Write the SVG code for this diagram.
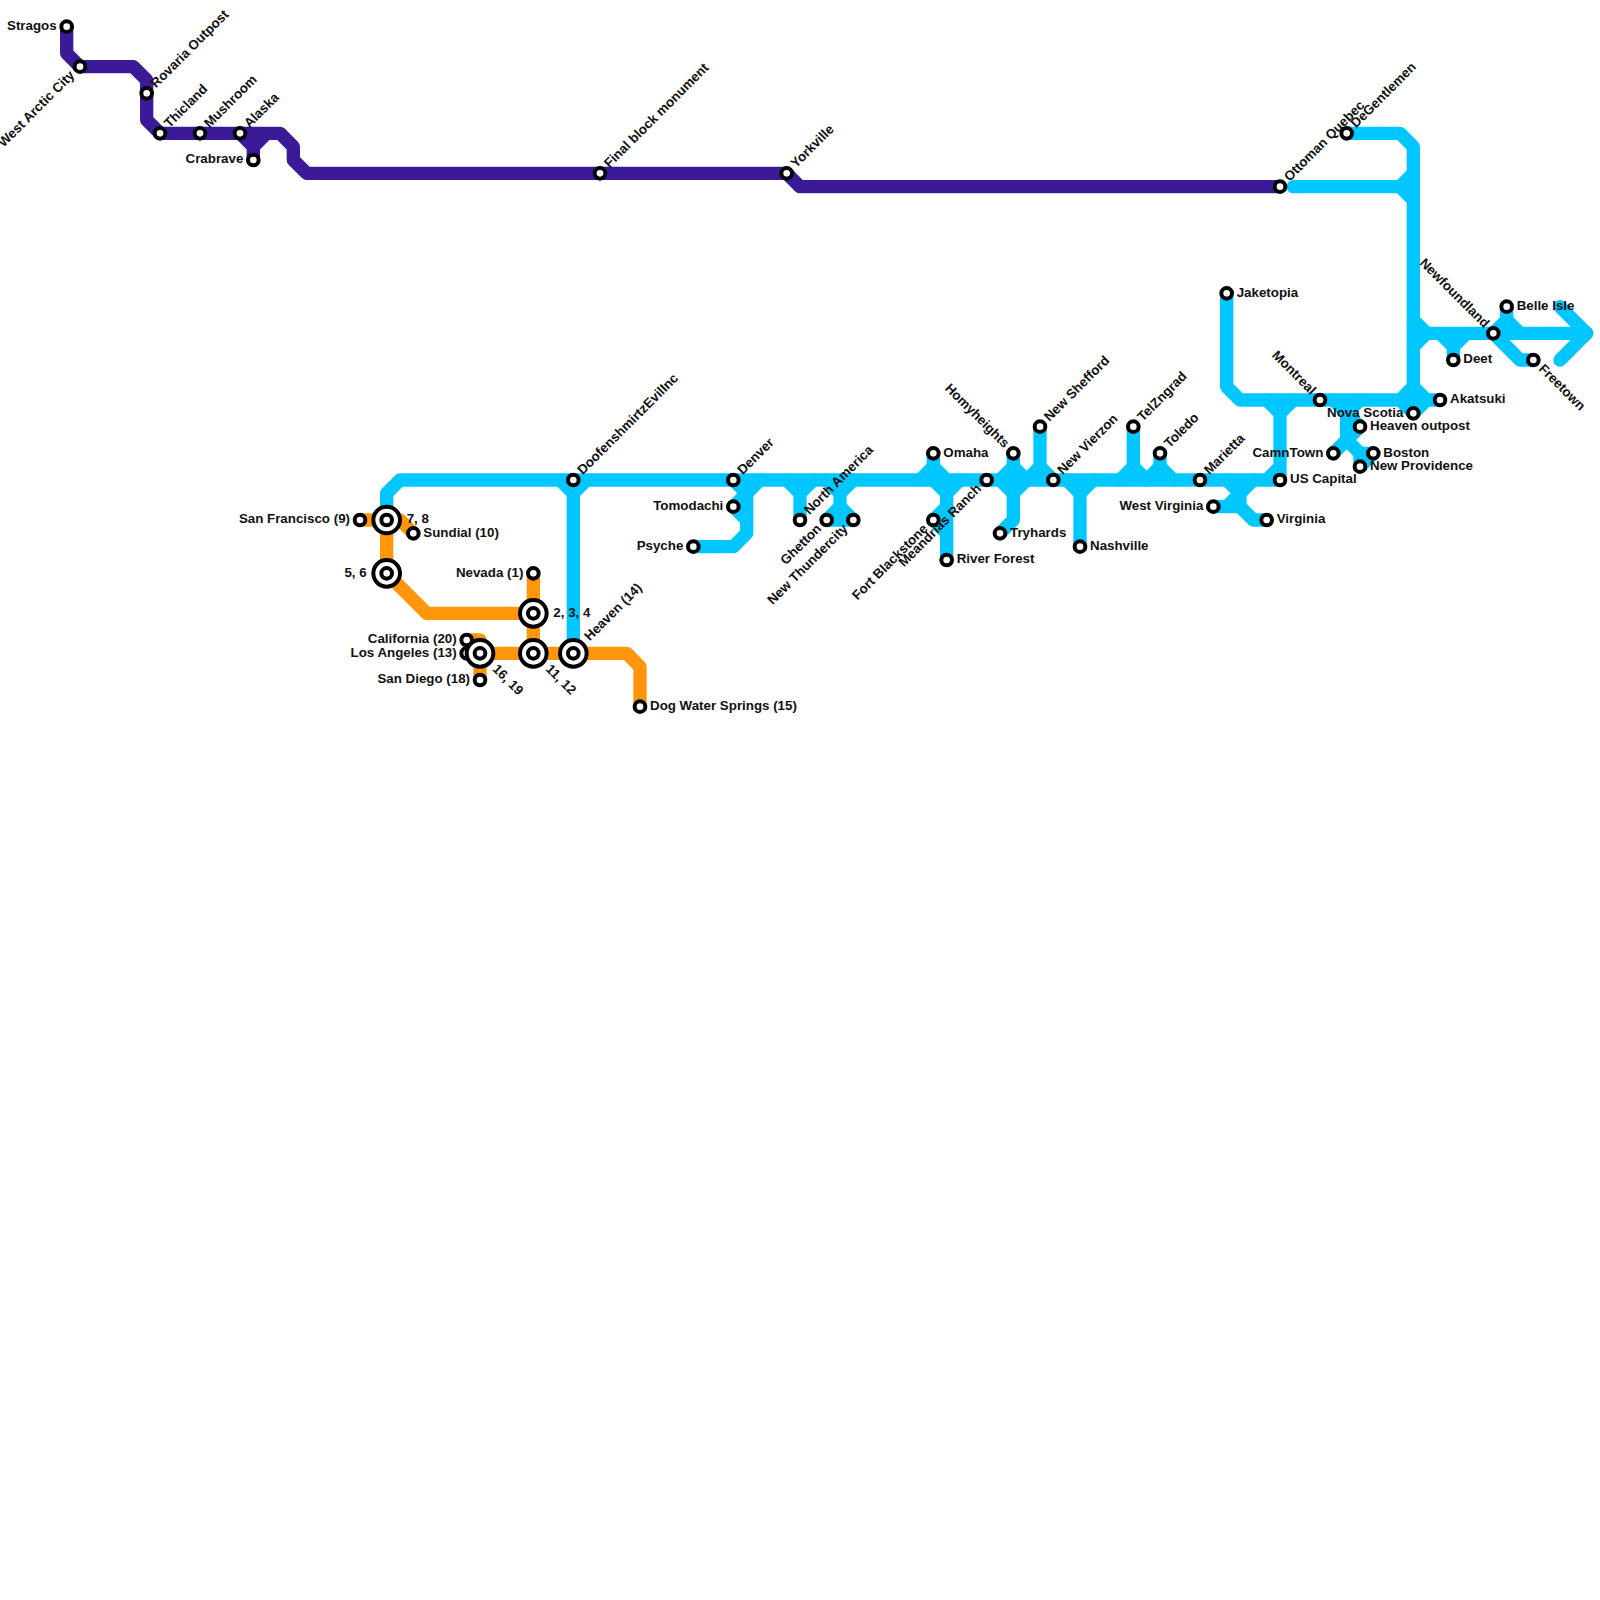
<svg xmlns="http://www.w3.org/2000/svg" width="1600" height="1600" viewBox="0 0 1600 1600">
<style>
.l{fill:none;stroke-width:1;stroke-linecap:round;stroke-linejoin:round}
.p{stroke:#3a1a96}.o{stroke:#ff960c}.c{stroke:#00c7ff}
circle{fill:#fff;stroke:#000;stroke-width:4}
text{font-family:"Liberation Sans",Arial,sans-serif;font-weight:700;font-size:13.33px;fill:#111}
.e{text-anchor:end}
</style>
<rect width="1600" height="1600" fill="#fff"/>
<g id="connectors" transform="scale(13.33333)">
<path class="l o" d="M27,39H30L31,40M29,39V43L32,46H40M40,43V49M35,48H36V51M35,49H47L48,50V53"/>
<path class="l c" d="M29,39V37L30,36H96M42,36L43,37L44,36M43,37V49"/>
<path class="l c" d="M55,36L56,37L57,36M56,37V40L55,41H52M56,37L55,38L56,39"/>
<path class="l c" d="M59,36L60,37L61,36M60,37V39"/>
<path class="l c" d="M62,36L63,37L64,36M63,37V38L62,39H64L63,38"/>
<path class="l c" d="M69,36L70,35L71,36M70,35V34"/>
<path class="l c" d="M70,36L71,37L72,36M71,37V42M71,38L70,39L71,40"/>
<path class="l c" d="M75,36L76,35L77,36M76,35V34"/>
<path class="l c" d="M75,36L76,37L77,36M76,37V39L75,40"/>
<path class="l c" d="M77,36L78,35L79,36M78,35V32"/>
<path class="l c" d="M80,36L81,37L82,36M81,37V41"/>
<path class="l c" d="M84,36L85,35L86,36M85,35V32"/>
<path class="l c" d="M86,36L87,35L88,36M87,35V34"/>
<path class="l c" d="M92,36L93,37L94,36M93,37V38L94,39H95M93,37L92,38H91M92,38H93"/>
<path class="l c" d="M95,36L96,35V31M95,30L96,31L97,30M96,35V36"/>
<path class="l c" d="M92,22V29L93,30H105L106,31L107,30H108M105,30L106,29L107,30M106,29V31"/>
<path class="l c" d="M101,10H105L106,11V29M97,14H105L106,13M105,14L106,15"/>
<path class="l c" d="M100,30L101,31L102,30M101,31V33L100,34M101,31L102,32L101,33L102,34H103L102,35V34"/>
<path class="l c" d="M106,24L107,25L106,26M107,25H119M108,25L109,26L110,25M109,26V27"/>
<path class="l c" d="M112,25L113,24L114,25M113,24V23M112,25L114,27H115M117,23L119,25L117,27"/>
<path class="l p" d="M5,2V4L6,5H10L11,6V9L12,10H21L22,11V12L23,13H59L60,14H96M18,10L19,11V12M19,11L20,10"/>
</g>
<g id="n-stragos"><circle cx="66.67" cy="26.67" r="5.33"/><text class="e" x="56.67" y="30">Stragos</text></g>
<g id="n-west-arctic"><circle cx="80" cy="66.67" r="5.33"/><text class="e" x="70" y="70" transform="rotate(-45 80 66.67)">West Arctic City</text></g>
<g id="n-rovaria"><circle cx="146.67" cy="93.33" r="5.33"/><text x="156.67" y="96.67" transform="rotate(-45 146.67 93.33)">Rovaria Outpost</text></g>
<g id="n-thicland"><circle cx="160" cy="133.33" r="5.33"/><text x="170" y="136.67" transform="rotate(-45 160 133.33)">Thicland</text></g>
<g id="n-mushroom"><circle cx="200" cy="133.33" r="5.33"/><text x="210" y="136.67" transform="rotate(-45 200 133.33)">Mushroom</text></g>
<g id="n-alaska"><circle cx="240" cy="133.33" r="5.33"/><text x="250" y="136.67" transform="rotate(-45 240 133.33)">Alaska</text></g>
<g id="n-crabrave"><circle cx="253.33" cy="160" r="5.33"/><text class="e" x="243.33" y="163.33">Crabrave</text></g>
<g id="n-final-block"><circle cx="600" cy="173.33" r="5.33"/><text x="610" y="176.67" transform="rotate(-45 600 173.33)">Final block monument</text></g>
<g id="n-yorkville"><circle cx="786.67" cy="173.33" r="5.33"/><text x="796.67" y="176.67" transform="rotate(-45 786.67 173.33)">Yorkville</text></g>
<g id="n-ottoman"><circle cx="1280" cy="186.67" r="5.33"/><text x="1290" y="190" transform="rotate(-45 1280 186.67)">Ottoman Quebec</text></g>
<g id="n-degentlemen"><circle cx="1346.67" cy="133.33" r="5.33"/><text x="1356.67" y="136.67" transform="rotate(-45 1346.67 133.33)">DeGentlemen</text></g>
<g id="n-doofen"><circle cx="573.33" cy="480" r="5.33"/><text x="583.33" y="483.33" transform="rotate(-45 573.33 480)">DoofenshmirtzEvilInc</text></g>
<g id="n-denver"><circle cx="733.33" cy="480" r="5.33"/><text x="743.33" y="483.33" transform="rotate(-45 733.33 480)">Denver</text></g>
<g id="n-tomodachi"><circle cx="733.33" cy="506.67" r="5.33"/><text class="e" x="723.33" y="510">Tomodachi</text></g>
<g id="n-psyche"><circle cx="693.33" cy="546.67" r="5.33"/><text class="e" x="683.33" y="550">Psyche</text></g>
<g id="n-north-america"><circle cx="800" cy="520" r="5.33"/><text x="810" y="523.33" transform="rotate(-45 800 520)">North America</text></g>
<g id="n-ghetton"><circle cx="826.67" cy="520" r="5.33"/><text class="e" x="816.67" y="523.33" transform="rotate(-45 826.67 520)">Ghetton</text></g>
<g id="n-new-thundercity"><circle cx="853.33" cy="520" r="5.33"/><text class="e" x="843.33" y="523.33" transform="rotate(-45 853.33 520)">New Thundercity</text></g>
<g id="n-omaha"><circle cx="933.33" cy="453.33" r="5.33"/><text x="943.33" y="456.67">Omaha</text></g>
<g id="n-fort-blackstone"><circle cx="933.33" cy="520" r="5.33"/><text class="e" x="923.33" y="523.33" transform="rotate(-45 933.33 520)">Fort Blackstone</text></g>
<g id="n-meandrias"><circle cx="986.67" cy="480" r="5.33"/><text class="e" x="976.67" y="483.33" transform="rotate(-45 986.67 480)">Meandrias Ranch</text></g>
<g id="n-river-forest"><circle cx="946.67" cy="560" r="5.33"/><text x="956.67" y="563.33">River Forest</text></g>
<g id="n-homyheights"><circle cx="1013.33" cy="453.33" r="5.33"/><text class="e" x="1003.33" y="456.67" transform="rotate(45 1013.33 453.33)">Homyheights</text></g>
<g id="n-tryhards"><circle cx="1000" cy="533.33" r="5.33"/><text x="1010" y="536.67">Tryhards</text></g>
<g id="n-new-shefford"><circle cx="1040" cy="426.67" r="5.33"/><text x="1050" y="430" transform="rotate(-45 1040 426.67)">New Shefford</text></g>
<g id="n-new-vierzon"><circle cx="1053.33" cy="480" r="5.33"/><text x="1063.33" y="483.33" transform="rotate(-45 1053.33 480)">New Vierzon</text></g>
<g id="n-nashville"><circle cx="1080" cy="546.67" r="5.33"/><text x="1090" y="550">Nashville</text></g>
<g id="n-telzngrad"><circle cx="1133.33" cy="426.67" r="5.33"/><text x="1143.33" y="430" transform="rotate(-45 1133.33 426.67)">TelZngrad</text></g>
<g id="n-toledo"><circle cx="1160" cy="453.33" r="5.33"/><text x="1170" y="456.67" transform="rotate(-45 1160 453.33)">Toledo</text></g>
<g id="n-marietta"><circle cx="1200" cy="480" r="5.33"/><text x="1210" y="483.33" transform="rotate(-45 1200 480)">Marietta</text></g>
<g id="n-west-virginia"><circle cx="1213.33" cy="506.67" r="5.33"/><text class="e" x="1203.33" y="510">West Virginia</text></g>
<g id="n-virginia"><circle cx="1266.67" cy="520" r="5.33"/><text x="1276.67" y="523.33">Virginia</text></g>
<g id="n-us-capital"><circle cx="1280" cy="480" r="5.33"/><text x="1290" y="483.33">US Capital</text></g>
<g id="n-jaketopia"><circle cx="1226.67" cy="293.33" r="5.33"/><text x="1236.67" y="296.67">Jaketopia</text></g>
<g id="n-montreal"><circle cx="1320" cy="400" r="5.33"/><text class="e" x="1310" y="403.33" transform="rotate(45 1320 400)">Montreal</text></g>
<g id="n-nova-scotia"><circle cx="1413.33" cy="413.33" r="5.33"/><text class="e" x="1403.33" y="416.67">Nova Scotia</text></g>
<g id="n-akatsuki"><circle cx="1440" cy="400" r="5.33"/><text x="1450" y="403.33">Akatsuki</text></g>
<g id="n-heaven-outpost"><circle cx="1360" cy="426.67" r="5.33"/><text x="1370" y="430">Heaven outpost</text></g>
<g id="n-camntown"><circle cx="1333.33" cy="453.33" r="5.33"/><text class="e" x="1323.33" y="456.67">CamnTown</text></g>
<g id="n-boston"><circle cx="1373.33" cy="453.33" r="5.33"/><text x="1383.33" y="456.67">Boston</text></g>
<g id="n-new-providence"><circle cx="1360" cy="466.67" r="5.33"/><text x="1370" y="470">New Providence</text></g>
<g id="n-deet"><circle cx="1453.33" cy="360" r="5.33"/><text x="1463.33" y="363.33">Deet</text></g>
<g id="n-newfoundland"><circle cx="1493.33" cy="333.33" r="5.33"/><text class="e" x="1483.33" y="336.67" transform="rotate(45 1493.33 333.33)">Newfoundland</text></g>
<g id="n-belle-isle"><circle cx="1506.67" cy="306.67" r="5.33"/><text x="1516.67" y="310">Belle Isle</text></g>
<g id="n-freetown"><circle cx="1533.33" cy="360" r="5.33"/><text x="1543.33" y="363.33" transform="rotate(45 1533.33 360)">Freetown</text></g>
<g id="n-san-francisco"><circle cx="360" cy="520" r="5.33"/><text class="e" x="350" y="523.33">San Francisco (9)</text></g>
<g id="n-7-8"><circle cx="386.67" cy="520" r="13.33"/><circle cx="386.67" cy="520" r="5.33"/><text x="406.67" y="523.33">7, 8</text></g>
<g id="n-sundial"><circle cx="413.33" cy="533.33" r="5.33"/><text x="423.33" y="536.67">Sundial (10)</text></g>
<g id="n-5-6"><circle cx="386.67" cy="573.33" r="13.33"/><circle cx="386.67" cy="573.33" r="5.33"/><text class="e" x="366.67" y="576.67">5, 6</text></g>
<g id="n-nevada"><circle cx="533.33" cy="573.33" r="5.33"/><text class="e" x="523.33" y="576.67">Nevada (1)</text></g>
<g id="n-2-3-4"><circle cx="533.33" cy="613.33" r="13.33"/><circle cx="533.33" cy="613.33" r="5.33"/><text x="553.33" y="616.67">2, 3, 4</text></g>
<g id="n-california"><circle cx="466.67" cy="640" r="5.33"/><text class="e" x="456.67" y="643.33">California (20)</text></g>
<g id="n-los-angeles"><circle cx="466.67" cy="653.33" r="5.33"/><text class="e" x="456.67" y="656.67">Los Angeles (13)</text></g>
<g id="n-16-19"><circle cx="480" cy="653.33" r="13.33"/><circle cx="480" cy="653.33" r="5.33"/><text x="500" y="656.67" transform="rotate(45 480 653.33)">16, 19</text></g>
<g id="n-san-diego"><circle cx="480" cy="680" r="5.33"/><text class="e" x="470" y="683.33">San Diego (18)</text></g>
<g id="n-11-12"><circle cx="533.33" cy="653.33" r="13.33"/><circle cx="533.33" cy="653.33" r="5.33"/><text x="553.33" y="656.67" transform="rotate(45 533.33 653.33)">11, 12</text></g>
<g id="n-heaven"><circle cx="573.33" cy="653.33" r="13.33"/><circle cx="573.33" cy="653.33" r="5.33"/><text x="593.33" y="656.67" transform="rotate(-45 573.33 653.33)">Heaven (14)</text></g>
<g id="n-dog-water"><circle cx="640" cy="706.67" r="5.33"/><text x="650" y="710">Dog Water Springs (15)</text></g>
</svg>
